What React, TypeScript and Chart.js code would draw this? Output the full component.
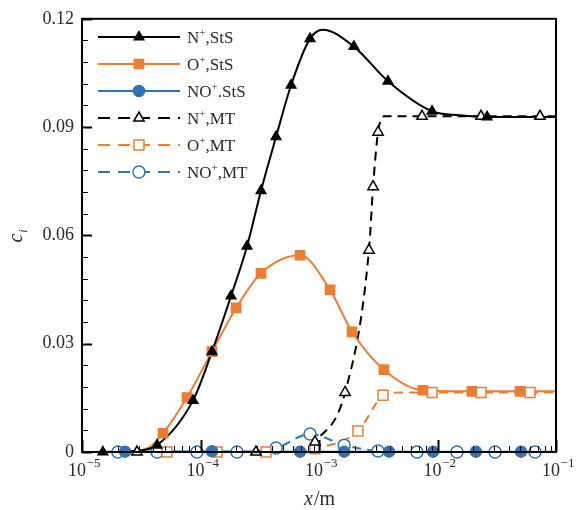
import React, { useEffect, useRef } from 'react';
import { Chart, registerables } from 'chart.js';

Chart.register(...registerables);

// ---------- data ----------
// N+, StS (solid black, filled triangles)
const nStsX = [1.5e-5, 4.3e-5, 8.65e-5, 1.25e-4, 1.81e-4, 2.47e-4, 3.24e-4, 4.34e-4, 5.81e-4, 8.4e-4, 1.97e-3, 3.82e-3, 8.99e-3, 2.62e-2];
const nStsY = [0, 0.0019, 0.0143, 0.0278, 0.0432, 0.057, 0.0724, 0.0873, 0.1016, 0.1145, 0.1123, 0.1027, 0.0944, 0.0928];
const nStsCurveX = [2.8e-5, 1.08e-3, 1.55e-2, 0.1];
const nStsCurveY = [0.0003, 0.117, 0.0933, 0.0928];

// O+, StS (solid orange, filled squares)
const oStsX = [4.83e-5, 7.69e-5, 1.25e-4, 2.0e-4, 3.24e-4, 6.92e-4, 1.24e-3, 1.9e-3, 3.53e-3, 7.55e-3, 1.95e-2, 4.97e-2];
const oStsY = [0.0052, 0.0151, 0.0278, 0.0399, 0.0495, 0.0545, 0.0449, 0.0333, 0.0228, 0.0171, 0.0168, 0.0168];
const oStsCurveX = [1.5e-5, 2.5e-5, 3.75e-5, 0.1];
const oStsCurveY = [0, 0.0002, 0.0014, 0.0168];

// NO+, StS (solid blue, filled circles)
const noStsX = [2.31e-5, 1.25e-4, 6.92e-4, 1.63e-3, 3.9e-3, 9.17e-3, 2.11e-2, 5.07e-2];
const noStsY = [0.0001, 0.0002, 0.0001, 0.0001, 0.0001, 0.0001, 0.0001, 0.0001];
const noStsCurveX = [2.0e-5, 0.1];
const noStsCurveY = [0.0001, 0.0001];

// N+, MT (dashed black, open triangles)
const nMtX = [2.91e-5, 2.94e-4, 9.25e-4, 1.66e-3, 2.64e-3, 2.86e-3, 3.15e-3, 7.4e-3, 2.33e-2, 7.33e-2];
const nMtY = [0, 0, 0.0028, 0.0165, 0.0559, 0.0735, 0.0886, 0.093, 0.093, 0.093];
const nMtCurveX = [2.0e-5, 7.6e-4, 3.54e-3, 0.1];
const nMtCurveY = [0, 0, 0.093, 0.093];

// O+, MT (dashed orange, open squares)
const oMtX = [5.21e-5, 1.38e-4, 3.57e-4, 9.25e-4, 2.13e-3, 3.47e-3, 9.0e-3, 2.33e-2, 6.04e-2];
const oMtY = [0, 0, 0, 0.0009, 0.0058, 0.0157, 0.0165, 0.0165, 0.0165];
const oMtCurveX = [2.0e-5, 6.5e-4, 4.2e-3, 0.1];
const oMtCurveY = [0, 0, 0.0164, 0.0165];

// NO+, MT (dashed blue, open circles)
const noMtX = [2.01e-5, 4.3e-5, 9.33e-5, 2.03e-4, 4.34e-4, 8.4e-4, 1.63e-3, 3.15e-3, 6.71e-3, 1.46e-2, 3.06e-2, 6.66e-2];
const noMtY = [0, 0, 0, 0, 0.0011, 0.005, 0.0019, 0.0003, 0, 0, 0, 0];
const noMtCurveX = [0.1];
const noMtCurveY = [0];

// axis ticks
const xTickValues = [1e-5, 1e-4, 1e-3, 1e-2, 1e-1];
const yTickValues = [0, 0.03, 0.06, 0.09, 0.12];
const yMinorStep = 0.006;

// legend labels: [base, superscript, rest]
const legendLabels: [string, string, string][] = [
  ['N', '+', ',StS'],
  ['O', '+', ',StS'],
  ['NO', '+', '.StS'],
  ['N', '+', ',MT'],
  ['O', '+', ',MT'],
  ['NO', '+', ',MT'],
];

// ---------- styling ----------
const BLACK = '#000000';
const ORANGE = '#ED7D31';
const BLUE = '#2E75B6';
const TEXT = '#2a2a2a';
const FONT = '"Liberation Serif", "Times New Roman", serif';

type Series = {
  mx: number[]; my: number[]; cx: number[]; cy: number[];
  color: string; dashed: boolean; style: 'triangle' | 'rect' | 'circle'; filled: boolean; radius: number;
};

const series: Series[] = [
  { mx: nStsX, my: nStsY, cx: nStsCurveX, cy: nStsCurveY, color: BLACK, dashed: false, style: 'triangle', filled: true, radius: 5.5 },
  { mx: oStsX, my: oStsY, cx: oStsCurveX, cy: oStsCurveY, color: ORANGE, dashed: false, style: 'rect', filled: true, radius: 6.5 },
  { mx: noStsX, my: noStsY, cx: noStsCurveX, cy: noStsCurveY, color: BLUE, dashed: false, style: 'circle', filled: true, radius: 5.5 },
  { mx: nMtX, my: nMtY, cx: nMtCurveX, cy: nMtCurveY, color: BLACK, dashed: true, style: 'triangle', filled: false, radius: 6 },
  { mx: oMtX, my: oMtY, cx: oMtCurveX, cy: oMtCurveY, color: ORANGE, dashed: true, style: 'rect', filled: false, radius: 7 },
  { mx: noMtX, my: noMtY, cx: noMtCurveX, cy: noMtCurveY, color: BLUE, dashed: true, style: 'circle', filled: false, radius: 6 },
];

const DASH = [9, 6];

function drawMarker(ctx: CanvasRenderingContext2D, s: Series, x: number, y: number) {
  const r = s.radius;
  ctx.beginPath();
  if (s.style === 'triangle') {
    let rad = 0;
    ctx.moveTo(x + Math.sin(rad) * r, y - Math.cos(rad) * r);
    rad += (2 * Math.PI) / 3;
    ctx.lineTo(x + Math.sin(rad) * r, y - Math.cos(rad) * r);
    rad += (2 * Math.PI) / 3;
    ctx.lineTo(x + Math.sin(rad) * r, y - Math.cos(rad) * r);
    ctx.closePath();
  } else if (s.style === 'rect') {
    const h = Math.SQRT1_2 * r;
    ctx.rect(x - h, y - h, 2 * h, 2 * h);
  } else {
    ctx.arc(x, y, r, 0, Math.PI * 2);
  }
  ctx.fillStyle = s.filled ? s.color : '#ffffff';
  ctx.fill();
  ctx.lineWidth = 1.5;
  ctx.strokeStyle = s.color;
  ctx.setLineDash([]);
  ctx.stroke();
}

const decorPlugin = {
  id: 'decor',
  afterDraw(chart: any) {
    const ctx: CanvasRenderingContext2D = chart.ctx;
    const { left, right, top, bottom } = chart.chartArea;
    const xs = chart.scales.x;
    const ys = chart.scales.y;
    ctx.save();
    ctx.setLineDash([]);
    ctx.strokeStyle = BLACK;

    // inward ticks, left axis
    const yMax = yTickValues[yTickValues.length - 1];
    for (let i = 0; i * yMinorStep <= yMax + 1e-9; i++) {
      const v = i * yMinorStep;
      const py = Math.round(ys.getPixelForValue(v)) + 0.5;
      const major = i % 5 === 0;
      ctx.lineWidth = major ? 2 : 1;
      ctx.beginPath();
      ctx.moveTo(left, py);
      ctx.lineTo(left + (major ? 10 : 6), py);
      ctx.stroke();
    }
    // inward ticks, bottom axis
    for (let e = -5; e <= -1; e++) {
      for (let d = 1; d <= 9; d++) {
        const v = d * Math.pow(10, e);
        if (v > 0.1 + 1e-12) break;
        const px = Math.round(xs.getPixelForValue(v)) + 0.5;
        const major = d === 1;
        ctx.lineWidth = major ? 2 : 1;
        ctx.beginPath();
        ctx.moveTo(px, bottom);
        ctx.lineTo(px, bottom - (major ? 12 : 6));
        ctx.stroke();
      }
    }

    // frame
    ctx.lineWidth = 2;
    ctx.strokeRect(left, top, right - left, bottom - top);

    // x tick labels 10^n
    ctx.fillStyle = TEXT;
    ctx.textBaseline = 'alphabetic';
    ctx.textAlign = 'left';
    for (const v of xTickValues) {
      const px = xs.getPixelForValue(v);
      const ex = Math.round(Math.log10(v));
      const base = '10';
      const sup = '\u2212' + Math.abs(ex);
      ctx.font = `18px ${FONT}`;
      const wb = ctx.measureText(base).width;
      ctx.font = `13px ${FONT}`;
      const ws = ctx.measureText(sup).width;
      const x0 = px - (wb + ws) / 2 + 2;
      ctx.font = `18px ${FONT}`;
      ctx.fillText(base, x0, 476);
      ctx.font = `13px ${FONT}`;
      ctx.fillText(sup, x0 + wb + 0.5, 467);
    }

    // x title: x/m
    ctx.font = `italic 20px ${FONT}`;
    const wx = ctx.measureText('x').width;
    ctx.font = `20px ${FONT}`;
    const wm = ctx.measureText('/m').width;
    const tx = (left + right) / 2 - (wx + wm) / 2;
    ctx.font = `italic 20px ${FONT}`;
    ctx.fillText('x', tx, 505);
    ctx.font = `20px ${FONT}`;
    ctx.fillText('/m', tx + wx + 1, 505);

    // y title: c_i
    ctx.save();
    ctx.translate(17, (top + bottom) / 2 + 1);
    ctx.rotate(-Math.PI / 2);
    ctx.font = `italic 20px ${FONT}`;
    const wc = ctx.measureText('c').width;
    ctx.font = `italic 12px ${FONT}`;
    const wi = ctx.measureText('i').width;
    const cx0 = -(wc + wi) / 2;
    ctx.font = `italic 20px ${FONT}`;
    ctx.fillText('c', cx0, 5);
    ctx.font = `italic 12px ${FONT}`;
    ctx.fillText('i', cx0 + wc + 1, 10);
    ctx.restore();

    // legend
    const lx0 = 98, lx1 = 180, mxp = 139, textX = 187;
    series.forEach((s, i) => {
      const ry = 37 + i * 27;
      ctx.strokeStyle = s.color;
      ctx.lineWidth = 2;
      ctx.setLineDash(s.dashed ? [12, 8] : []);
      ctx.beginPath();
      ctx.moveTo(lx0, ry);
      ctx.lineTo(lx1, ry);
      ctx.stroke();
      drawMarker(ctx, s, mxp, ry);
      const [b, sp, rest] = legendLabels[i];
      ctx.fillStyle = TEXT;
      ctx.font = `17px ${FONT}`;
      ctx.fillText(b, textX, ry + 6);
      const wb = ctx.measureText(b).width;
      ctx.font = `11px ${FONT}`;
      ctx.fillText(sp, textX + wb, ry - 1);
      const wsp = ctx.measureText(sp).width;
      ctx.font = `17px ${FONT}`;
      ctx.fillText(rest, textX + wb + wsp, ry + 6);
    });

    ctx.restore();
  },
};

function buildCurve(s: Series) {
  const pts = s.mx.map((x, i) => ({ x, y: s.my[i] })).concat(s.cx.map((x, i) => ({ x, y: s.cy[i] })));
  pts.sort((a, b) => a.x - b.x);
  return pts;
}

export default function App() {
  const ref = useRef<HTMLCanvasElement | null>(null);
  useEffect(() => {
    if (!ref.current) return;
    const markerSets: any[] = series.map((s) => ({
      data: s.mx.map((x, i) => ({ x, y: s.my[i] })),
      showLine: false,
      pointStyle: s.style,
      pointRadius: s.radius,
      pointHoverRadius: s.radius,
      pointBackgroundColor: s.filled ? s.color : '#ffffff',
      pointBorderColor: s.color,
      pointBorderWidth: 1.5,
      clip: false,
    }));
    const lineSets: any[] = series.map((s) => ({
      data: buildCurve(s),
      showLine: true,
      borderColor: s.color,
      borderWidth: 2,
      borderDash: s.dashed ? DASH : [],
      cubicInterpolationMode: 'monotone',
      pointRadius: 0,
      pointHoverRadius: 0,
      fill: false,
      clip: false,
    }));
    const chart = new Chart(ref.current, {
      type: 'scatter',
      data: { datasets: [...markerSets, ...lineSets] },
      plugins: [decorPlugin],
      options: {
        animation: false,
        responsive: false,
        maintainAspectRatio: false,
        devicePixelRatio: window.devicePixelRatio || 1,
        layout: { padding: { top: 16, right: 27, left: 0, bottom: 0 } },
        plugins: { legend: { display: false }, tooltip: { enabled: false } },
        events: [],
        scales: {
          x: {
            type: 'logarithmic',
            min: 1e-5,
            max: 1e-1,
            grid: { display: false, drawTicks: false },
            border: { display: false },
            ticks: { display: false },
            afterFit: (s: any) => { s.height = 58; },
          },
          y: {
            type: 'linear',
            min: 0,
            max: 0.12,
            grid: { display: false, drawTicks: false },
            border: { display: false },
            afterBuildTicks: (s: any) => { s.ticks = yTickValues.map((v) => ({ value: v })); },
            ticks: {
              padding: 8,
              color: TEXT,
              font: { family: FONT, size: 18 },
              callback: (v: any) => (Number(v) === 0 ? '0' : Number(v).toFixed(2)),
            },
            afterFit: (s: any) => { s.width = 82; },
          },
        },
      } as any,
    });
    return () => chart.destroy();
  }, []);
  return (
    <div style={{ position: 'absolute', left: 0, top: 0, width: 583, height: 510, background: '#fff' }}>
      <canvas ref={ref} width={583} height={510} style={{ display: 'block', width: 583, height: 510 }} />
    </div>
  );
}
